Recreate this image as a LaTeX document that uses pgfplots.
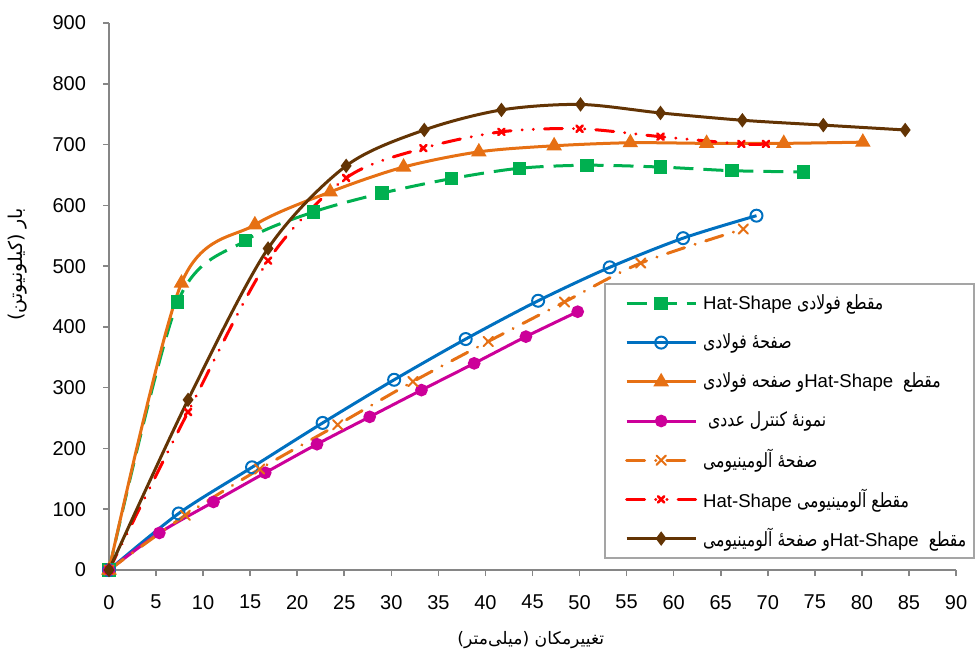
\documentclass[border=0pt]{standalone}
\usepackage{fontspec}
\usepackage{pgfplots}
\pgfplotsset{compat=1.18}
\setmainfont{Liberation Sans}
\newfontfamily\fa[Script=Arabic]{DejaVu Sans}
\newfontfamily\fan[Script=Arabic, FakeStretch=0.8]{DejaVu Sans}
\TeXXeTstate=1

\definecolor{cgreen}{RGB}{0,176,80}
\definecolor{cblue}{RGB}{0,112,192}
\definecolor{corange}{RGB}{230,112,20}
\definecolor{cmagenta}{RGB}{204,0,153}
\definecolor{cred}{RGB}{255,0,0}
\definecolor{cbrown}{RGB}{99,52,4}
\definecolor{axisgray}{RGB}{134,134,134}
\definecolor{legendgray}{RGB}{165,165,165}

\newcommand{\legtext}[1]{\makebox[122.5pt][l]{\fan\fontsize{9.8}{10}\selectfont #1}}
\newcommand{\hs}{\beginL{\fontsize{9.3}{10}\selectfont\rmfamily Hat-Shape}\endL}

\begin{document}
\begin{tikzpicture}
\path[use as bounding box] (-54.5pt,-39pt) rectangle (434pt,285pt);
\begin{axis}[
    scale only axis,
    width=423.5pt, height=273.5pt,
    xmin=0, xmax=90, ymin=0, ymax=900,
    xtick={0,5,...,90}, ytick={0,100,...,900},
    axis lines*=left,
    axis line style={draw=axisgray, line width=0.8pt},
    tick align=outside, major tick length=3pt,
    tick style={draw=axisgray, line width=0.8pt},
    ticklabel style={font=\fontsize{10}{12}\selectfont},
    xticklabel style={yshift=-6pt},
    yticklabel style={xshift=-5pt},
    /pgf/number format/assume math mode=true,
    clip=false,
    xlabel={\fa\fontsize{8.6}{11}\selectfont\beginR تغییرمکان (میلی‌متر)\endR},
    ylabel={\fa\fontsize{9.5}{11}\selectfont\beginR بار (کیلونیوتن)\endR},
    xlabel style={at={(axis description cs:0.498,-0.128)}, anchor=center},
    ylabel style={at={(axis description cs:-0.1074,0.559)}, anchor=center},
    legend style={at={(axis description cs:1.0224,0.5247)}, anchor=north east,
        draw=legendgray, line width=0.8pt, inner xsep=10pt, inner ysep=0pt,
        row sep=0pt, nodes={minimum height=19.6pt, inner ysep=0pt, inner xsep=3pt}},
    legend cell align=left,
    legend image code/.code={\draw[mark repeat=2,mark phase=2,#1] plot coordinates {(0pt,0pt) (17.25pt,0pt) (34.5pt,0pt)};},
    every axis plot/.append style={line width=1.5pt, smooth},
]

\addplot[color=cgreen, dash pattern=on 10pt off 5pt, mark=square*, mark size=2.6pt, mark options={solid}] coordinates {
    (0,0)(7.3,441)(14.5,542)(21.7,589)(29.0,620)(36.4,644)(43.6,661)(50.8,666)(58.6,663)(66.2,657)(73.8,655)
};
\addlegendentry{\legtext{\beginR مقطع فولادی \hs\endR}}

\addplot[color=cblue, mark=o, mark size=3pt, mark options={solid, fill=white, line width=1pt}] coordinates {
    (0,0)(7.4,93)(15.2,169)(22.7,242)(30.3,313)(37.9,380)(45.6,443)(53.2,498)(61.0,546)(68.8,583)
};
\addlegendentry{\legtext{\beginR صفحهٔ فولادی\endR}}

\addplot[color=corange, mark=triangle*, mark size=3pt, mark options={solid}] coordinates {
    (0,0)(7.7,472)(15.5,568)(23.5,622)(31.3,663)(39.3,688)(47.3,698)(55.4,703)(63.5,702)(71.7,702)(80.1,704)
};
\addlegendentry{\legtext{\beginR مقطع \ \hs و صفحه فولادی\endR}}

\addplot[color=cmagenta, mark=*, mark size=2.4pt, mark options={solid}] coordinates {
    (0,0)(5.35,61)(11.1,112)(16.6,160)(22.1,207)(27.7,252)(33.2,296)(38.8,340)(44.3,384)(49.8,425)
};
\addlegendentry{\legtext{\ \beginR نمونهٔ کنترل عددی\endR}}

\addplot[color=corange, line cap=round, dash pattern=on 9pt off 5.5pt on 0.1pt off 5.5pt, mark=x, mark size=3.3pt, mark options={solid, line width=1pt}] coordinates {
    (0,0)(8.1,90)(16.0,166)(24.3,239)(32.3,310)(40.3,376)(48.4,441)(56.5,505)(67.4,561)
};
\addlegendentry{\legtext{\beginR صفحهٔ آلومینیومی\endR}}

\addplot[color=cred, line cap=round, dash pattern=on 9pt off 5.5pt on 0.1pt off 5.5pt on 0.1pt off 5.5pt, mark=x, mark size=2.2pt, mark options={solid, line width=1.3pt}] coordinates {
    (0,0)(8.4,260)(16.9,509)(25.2,645)(33.4,694)(41.7,721)(50.0,726)(58.6,713)(67.2,701)(69.8,701)
};
\addlegendentry{\legtext{\beginR مقطع آلومینیومی \hs\endR}}

\addplot[color=cbrown, mark=diamond*, mark size=2.4pt, mark options={solid}] coordinates {
    (0,0)(8.4,280)(16.9,529)(25.2,665)(33.5,724)(41.7,757)(50.1,766)(58.6,752)(67.3,740)(75.9,732)(84.6,724)
};
\addlegendentry{\legtext{\beginR مقطع \ \hs و صفحهٔ آلومینیومی\endR}}

\end{axis}
\end{tikzpicture}
\end{document}
